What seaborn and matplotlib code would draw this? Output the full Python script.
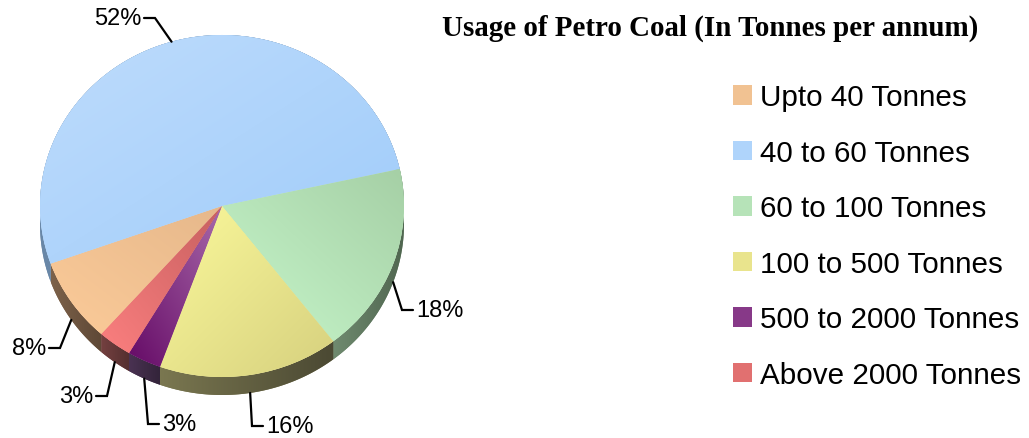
import numpy as np
import matplotlib.pyplot as plt
import seaborn as sns
from matplotlib.colors import to_rgb
from matplotlib.patches import Polygon

sns.set_theme(style="white")
plt.rcParams['font.family'] = ['Liberation Sans', 'DejaVu Sans']
plt.rcParams['text.color'] = 'black'

# data
categories = ["Upto 40 Tonnes", "40 to 60 Tonnes", "60 to 100 Tonnes",
              "100 to 500 Tonnes", "500 to 2000 Tonnes", "Above 2000 Tonnes"]
shares = [8, 52, 18, 16, 3, 3]
title = "Usage of Petro Coal (In Tonnes per annum)"

# look: top face gradient ends, gradient direction, side band gradient ends
top_from = ["#fccb99", "#bedcfc", "#c7f7cb", "#fbf99b", "#650a66", "#fb7f7f"]
top_to = ["#e6b88b", "#a0ccfa", "#a5cfa5", "#d6d07e", "#a869aa", "#c76060"]
grad_dir = [(1, 1), (1, -1), (1, 1), (1, -1), (1, 1), (1, 1)]
side_from = ["#7d624a", "#6a88a8", "#6f8a6f", "#7a7750", "#4a3252", "#744040"]
side_to = ["#5e4836", "#4d6680", "#506650", "#4b4933", "#33243a", "#553030"]

# label anchors in pixels (inner edge of the text) and which side the text sits
label_px = [(46, 349), (141, 19), (416, 311), (266, 427), (162, 425), (93, 397)]
label_ha = ["right", "right", "left", "left", "left", "right"]

W, H = 1029, 439
CX, CY, RX, RY = 222, 207, 182, 171   # pie centre / radii in pixels
DEPTH = 18 / RY


def to_data(x, y):
    return (x - CX) / RX, (CY - y) / RY


def shade(ax, patch, c0, c1, d, z):
    """Fill a patch with a linear gradient, clipped to the patch."""
    verts = patch.get_path().vertices
    x0, y0 = verts.min(axis=0)
    x1, y1 = verts.max(axis=0)
    gx, gy = np.meshgrid(np.linspace(0, 1, 120), np.linspace(0, 1, 120))
    t = gx * d[0] + gy * d[1]
    t = (t - t.min()) / (t.max() - t.min())
    a, b = np.array(to_rgb(c0)), np.array(to_rgb(c1))
    img = a + t[..., None] * (b - a)
    im = ax.imshow(img, extent=(x0, x1, y0, y1), origin='lower', aspect='auto',
                   zorder=z, interpolation='bilinear')
    im.set_clip_path(patch)


fig = plt.figure(figsize=(W / 100, H / 100), dpi=100)
ax = fig.add_axes([0, 0, 1, 1])

mids = [tuple((np.array(to_rgb(a)) + np.array(to_rgb(b))) / 2) for a, b in zip(top_from, top_to)]
wedges, _ = ax.pie(shares, colors=mids, startangle=228.5, counterclock=False,
                   wedgeprops=dict(linewidth=0, zorder=2))
ax.set_aspect('auto')

# side band of the 3D disc
for i, w in enumerate(wedges):
    th = np.radians(np.linspace(w.theta1, w.theta2, 120))
    top = np.column_stack([np.cos(th), np.sin(th)])
    bot = top - [0, DEPTH]
    side = Polygon(np.vstack([top, bot[::-1]]), closed=True, lw=0,
                   fc=side_from[i], zorder=1)
    ax.add_patch(side)
    shade(ax, side, side_from[i], side_to[i], (1, 0), 1.5)

# gradients on the top face
for i, w in enumerate(wedges):
    shade(ax, w, top_from[i], top_to[i], grad_dir[i], 2.5)

# percent labels with elbow leaders
for i, w in enumerate(wedges):
    mid = np.radians((w.theta1 + w.theta2) / 2)
    px, py = np.cos(mid), np.sin(mid)
    if py < 0:
        py -= DEPTH
    lx, ly = label_px[i]
    step = 1 if label_ha[i] == "right" else -1
    ex, ey = to_data(lx + 3 * step, ly)
    kx, ky = to_data(lx + 14 * step, ly)
    ax.plot([ex, kx, px], [ey, ky, py], color='black', lw=1.6, zorder=4,
            solid_joinstyle='miter')
    tx, ty = to_data(lx, ly)
    ax.text(tx, ty, f"{shares[i]}%", ha=label_ha[i], va='center',
            fontsize=17, color='black', zorder=5)

ax.set_xlim(to_data(0, 0)[0], to_data(W, 0)[0])
ax.set_ylim(to_data(0, H)[1], to_data(0, 0)[1])
ax.axis('off')

fig.text(710 / W, 1 - 36 / H, title, ha='center', va='baseline', color='black',
         fontsize=20.9, fontweight='bold', family=['Liberation Serif', 'DejaVu Serif'])

ax.legend(wedges, categories, loc='center left',
          bbox_to_anchor=(733 / W, 1 - 237 / H), bbox_transform=fig.transFigure,
          frameon=False, fontsize=21.3, handlelength=0.64, handleheight=0.64,
          handletextpad=0.27, labelspacing=0.93, borderpad=0, borderaxespad=0,
          labelcolor='black')

fig.savefig("out.png", dpi=100)
plt.close()
